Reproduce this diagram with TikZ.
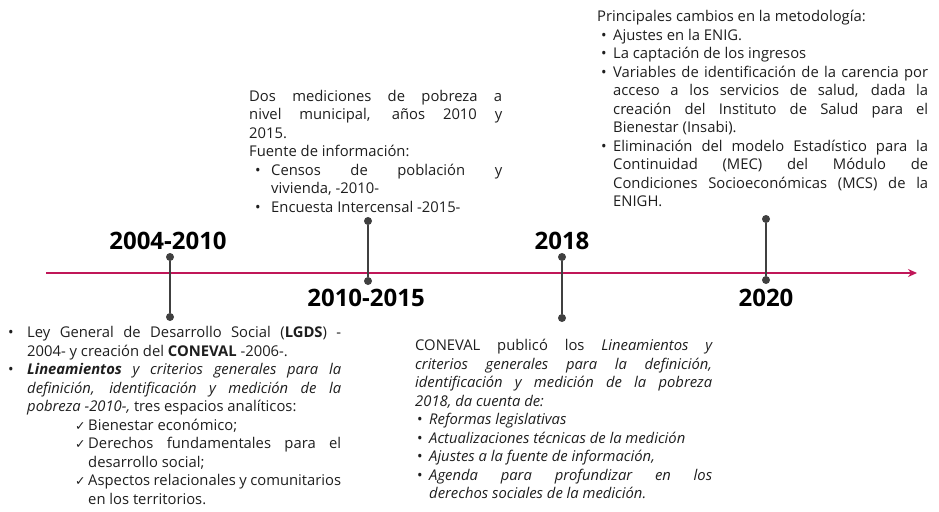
\documentclass[tikz,border=0pt]{standalone}
\usepackage{fontspec}
\setmainfont{Open Sans}
\newfontfamily\symfont{DejaVu Sans}
\usepackage{enumitem}
\usetikzlibrary{arrows.meta}
\setlength{\parindent}{0pt}
\setlength{\parskip}{0pt}
\definecolor{axisred}{RGB}{192,22,88}
\definecolor{pingray}{RGB}{64,64,64}
\definecolor{bodytext}{RGB}{30,30,30}
\tikzset{
    axisline/.style = {draw=axisred, line width=2.4pt, -{Stealth[length=9pt,width=8pt]}},
    pin/.style = {draw=pingray, line width=2.6pt},
    pindot/.style = {circle, fill=pingray, inner sep=0pt, minimum size=8pt},
    year/.style = {inner sep=0pt, font=\fontsize{24}{27}\selectfont\bfseries},
    txt/.style = {anchor=north west, inner sep=0pt, align=justify, text=bodytext,
                  font=\fontsize{14.8}{18.5}\selectfont},
}
\newlist{bullets}{itemize}{2}
\setlist[bullets]{itemsep=0pt, topsep=0pt, parsep=0pt, partopsep=0pt, labelsep=0pt, align=left}
\newcommand{\tick}{{\symfont\fontsize{12.5}{12.5}\selectfont ✓}}

\begin{document}
\begin{tikzpicture}[x=1pt, y=-1pt]
\useasboundingbox (0,0) rectangle (939,511);

% timeline
\coordinate (axstart) at (46,273);
\coordinate (axend) at (917,273);
\draw[axisline] (axstart) -- (axend);

\node[pindot] at (170,257) (p1top) {};
\node[pindot] at (170,317) (p1bot) {};
\node[pindot] at (368,221) (p2top) {};
\node[pindot] at (368,281) (p2bot) {};
\node[pindot] at (562,257) (p3top) {};
\node[pindot] at (562,318) (p3bot) {};
\node[pindot] at (766,219) (p4top) {};
\node[pindot] at (766,280) (p4bot) {};
%
\draw[pin] (p1top) -- (p1bot);
\draw[pin] (p2top) -- (p2bot);
\draw[pin] (p3top) -- (p3bot);
\draw[pin] (p4top) -- (p4bot);

\node[year] at (168,241) (y1) {2004-2010};
\node[year] at (366,298) (y2) {2010-2015};
\node[year] at (562,241) (y3) {2018};
\node[year] at (766,298) (y4) {2020};

% texts
\node[txt, text width=333pt] at (8,319) (ta) {%
\begin{bullets}[leftmargin=19pt, labelwidth=19pt, label=\textbullet]
\item Ley General de Desarrollo Social (\textbf{LGDS}) -\linebreak
2004- y creación del \textbf{CONEVAL} -2006-.
\item \textbf{\textit{Lineamientos}} \textit{y criterios generales para la\linebreak
definición, identificación y medición de la\linebreak
pobreza -2010-,} tres espacios analíticos:
  \begin{bullets}[leftmargin=61pt, labelwidth=13pt, label=\tick]
  \item Bienestar económico;
  \item Derechos fundamentales para el\linebreak desarrollo social;
  \item Aspectos relacionales y comunitarios\linebreak en los territorios.
  \end{bullets}
\end{bullets}};

\node[txt, text width=297pt] at (415,339) (tb) {%
CONEVAL publicó los \textit{Lineamientos y\linebreak
criterios generales para la definición,\linebreak
identificación y medición de la pobreza\linebreak
2018, da cuenta de:}
\begin{bullets}[leftmargin=14pt, labelwidth=12pt, label=\textbullet]
\item \textit{Reformas legislativas}
\item \textit{Actualizaciones técnicas de la medición}
\item \textit{Ajustes a la fuente de información,}
\item \textit{Agenda para profundizar en los\linebreak derechos sociales de la medición.}
\end{bullets}};

\node[txt, text width=253pt] at (249,90) (tc) {%
Dos mediciones de pobreza a\linebreak
nivel municipal, años 2010 y\linebreak
2015.\par
Fuente de información:
\begin{bullets}[leftmargin=22pt, labelwidth=16pt, label=\textbullet]
\item Censos de población y\linebreak vivienda, -2010-
\item Encuesta Intercensal -2015-
\end{bullets}};

\node[txt, text width=331pt] at (597,10) (td) {%
Principales cambios en la metodología:
\begin{bullets}[leftmargin=16pt, labelwidth=12pt, label=\textbullet]
\item Ajustes en la ENIG.
\item La captación de los ingresos
\item Variables de identificación de la carencia por\linebreak
acceso a los servicios de salud, dada la\linebreak
creación del Instituto de Salud para el\linebreak
Bienestar (Insabi).
\item Eliminación del modelo Estadístico para la\linebreak
Continuidad (MEC) del Módulo de\linebreak
Condiciones Socioeconómicas (MCS) de la\linebreak
ENIGH.
\end{bullets}};

\end{tikzpicture}
\end{document}
